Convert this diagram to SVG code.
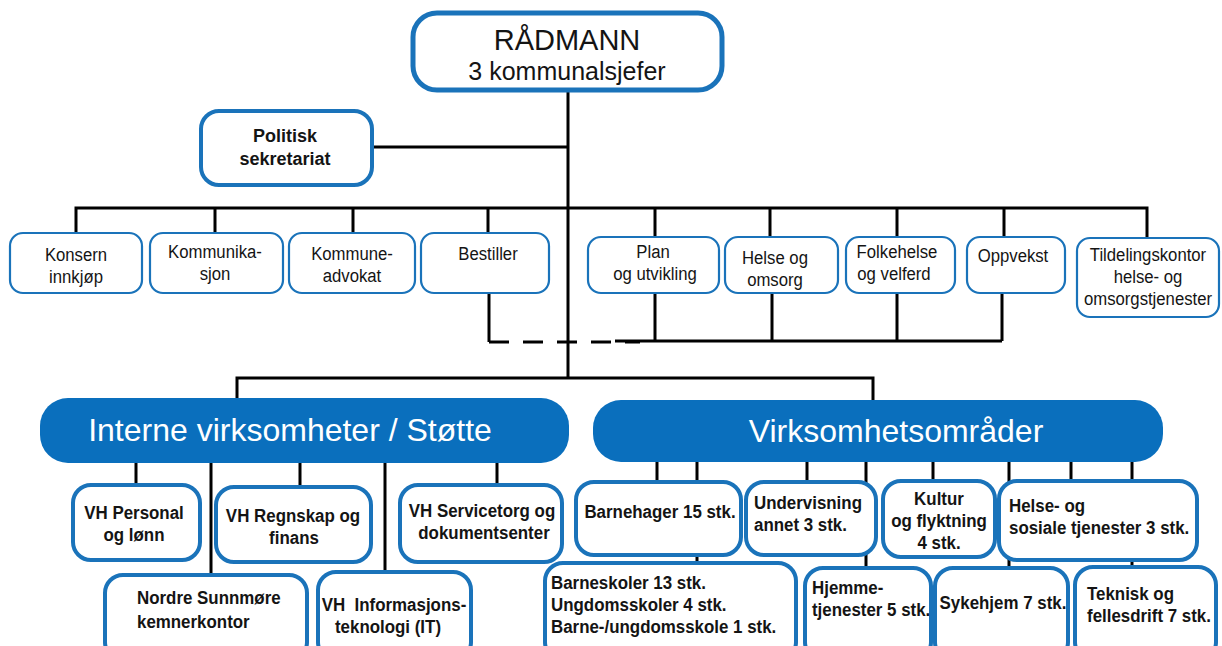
<svg xmlns="http://www.w3.org/2000/svg" width="1222" height="646" viewBox="0 0 1222 646">
<style>
.box{fill:#fff;stroke:#1a73ba;stroke-width:4}
.thin{stroke-width:2.2}
.bar{fill:#0a6fbd}
.t{font-family:"Liberation Sans",Arial,sans-serif;fill:#141414}
.r{font-size:19px}
.b{font-size:19px;font-weight:bold}
.r,.b{transform-box:fill-box;transform-origin:left center;transform:scaleX(.88)}
.b{transform:scaleX(.89)}
.w{fill:#fff;font-size:32px}
.c{text-anchor:middle;transform-origin:center}
.ln{stroke:#000;stroke-width:3;fill:none}
.dash{stroke-dasharray:20 14}
</style>
<rect width="1222" height="646" fill="#fff"/>
<g id="connectors">
<path class="ln" d="M568 90V378"/>
<path class="ln" d="M373 147H568"/>
<path class="ln" d="M76 233V208H1147V238"/>
<path class="ln" d="M215 208V233M353 208V233M488 208V233M655 208V237M770 208V237M897 208V237M1004 208V237"/>
<path class="ln" d="M489 293V342"/>
<path class="ln dash" d="M489 342H640"/>
<path class="ln" d="M615 341H1002M655 293V341M772 293V341M897 293V341M1002 293V341"/>
<path class="ln" d="M237 400V378H873V402"/>
<path class="ln" d="M136 463V485M211 463V575M300 463V487M385 463V572M497 463V485"/>
<path class="ln" d="M657 462V482M697 462V563M807 462V482M866 462V568M933 462V481M1009 462V568M1071 462V481M1132 462V567"/>
</g>
<g id="radmann">
<rect class="box" x="413" y="13" width="309" height="77" rx="24" style="stroke-width:5"/>
<text class="t c" x="567" y="50" font-size="29">RÅDMANN</text>
<text class="t c" x="567" y="80" font-size="25">3 kommunalsjefer</text>
</g>
<g id="politisk">
<rect class="box" x="201" y="111" width="171" height="74" rx="18"/>
<text class="t c" x="285" y="142" font-size="18" font-weight="bold">Politisk</text>
<text class="t c" x="285" y="165" font-size="18" font-weight="bold">sekretariat</text>
</g>
<g id="konsern">
<rect class="box thin" x="10" y="233" width="132" height="60" rx="13"/>
<text class="t r c" x="76" y="261">Konsern</text>
<text class="t r c" x="76" y="283">innkjøp</text>
</g>
<g id="kommunikasjon">
<rect class="box thin" x="150" y="233" width="133" height="60" rx="13"/>
<text class="t r c" x="215" y="258">Kommunika-</text>
<text class="t r c" x="215" y="280">sjon</text>
</g>
<g id="kommuneadvokat">
<rect class="box thin" x="289" y="233" width="126" height="60" rx="13"/>
<text class="t r c" x="352" y="260">Kommune-</text>
<text class="t r c" x="352" y="282">advokat</text>
</g>
<g id="bestiller">
<rect class="box thin" x="421" y="233" width="128" height="60" rx="13"/>
<text class="t r c" x="488" y="260">Bestiller</text>
</g>
<g id="plan">
<rect class="box thin" x="588" y="237" width="131" height="56" rx="13"/>
<text class="t r c" x="653" y="258">Plan</text>
<text class="t r c" x="655" y="280">og utvikling</text>
</g>
<g id="helseomsorg">
<rect class="box thin" x="725" y="237" width="113" height="56" rx="13"/>
<text class="t r c" x="775" y="264">Helse og</text>
<text class="t r c" x="775" y="286">omsorg</text>
</g>
<g id="folkehelse">
<rect class="box thin" x="846" y="237" width="109" height="56" rx="13"/>
<text class="t r c" x="897" y="258">Folkehelse</text>
<text class="t r c" x="894" y="280">og velferd</text>
</g>
<g id="oppvekst">
<rect class="box thin" x="967" y="237" width="98" height="56" rx="13"/>
<text class="t r c" x="1013" y="262">Oppvekst</text>
</g>
<g id="tildelingskontor">
<rect class="box thin" x="1077" y="238" width="142" height="79" rx="13"/>
<text class="t r c" x="1148" y="261">Tildelingskontor</text>
<text class="t r c" x="1148" y="283">helse- og</text>
<text class="t r c" x="1148" y="305">omsorgstjenester</text>
</g>
<g id="interne">
<rect class="bar" x="40" y="398" width="529" height="65" rx="28"/>
<text class="t w c" x="290" y="441">Interne virksomheter / Støtte</text>
</g>
<g id="virksomhetsomrader">
<rect class="bar" x="593" y="400" width="570" height="62" rx="28"/>
<text class="t w c" x="896" y="442">Virksomhetsområder</text>
</g>
<g id="personal">
<rect class="box" x="73" y="485" width="127" height="75" rx="18"/>
<text class="t b c" x="134" y="519">VH Personal</text>
<text class="t b c" x="134" y="541">og lønn</text>
</g>
<g id="regnskap">
<rect class="box" x="216" y="487" width="155" height="75" rx="18"/>
<text class="t b c" x="293" y="522">VH Regnskap og</text>
<text class="t b c" x="294" y="544">finans</text>
</g>
<g id="servicetorg">
<rect class="box" x="400" y="485" width="162" height="77" rx="18"/>
<text class="t b c" x="482" y="517">VH Servicetorg og</text>
<text class="t b c" x="484" y="539">dokumentsenter</text>
</g>
<g id="kemnerkontor">
<rect class="box" x="105" y="575" width="202" height="85" rx="18"/>
<text class="t b" x="137" y="604">Nordre Sunnmøre</text>
<text class="t b" x="137" y="628">kemnerkontor</text>
</g>
<g id="it">
<rect class="box" x="318" y="572" width="153" height="88" rx="18"/>
<text class="t b c" x="394" y="611" xml:space="preserve">VH  Informasjons-</text>
<text class="t b c" x="388" y="633">teknologi (IT)</text>
</g>
<g id="barnehager">
<rect class="box" x="576" y="482" width="165" height="73" rx="18"/>
<text class="t b c" x="660" y="518">Barnehager 15 stk.</text>
</g>
<g id="undervisning">
<rect class="box" x="746" y="482" width="130" height="73" rx="18"/>
<text class="t b" x="754" y="509">Undervisning</text>
<text class="t b" x="754" y="531">annet 3 stk.</text>
</g>
<g id="kultur">
<rect class="box" x="883" y="481" width="112" height="76" rx="18"/>
<text class="t b c" x="939" y="505">Kultur</text>
<text class="t b c" x="939" y="527">og flyktning</text>
<text class="t b c" x="939" y="549">4 stk.</text>
</g>
<g id="helsesosial">
<rect class="box" x="999" y="481" width="198" height="79" rx="18"/>
<text class="t b" x="1009" y="512">Helse- og</text>
<text class="t b" x="1009" y="534">sosiale tjenester 3 stk.</text>
</g>
<g id="skoler">
<rect class="box" x="545" y="563" width="251" height="97" rx="18"/>
<text class="t b" x="551" y="589">Barneskoler 13 stk.</text>
<text class="t b" x="551" y="611">Ungdomsskoler 4 stk.</text>
<text class="t b" x="551" y="633">Barne-/ungdomsskole 1 stk.</text>
</g>
<g id="hjemmetjenester">
<rect class="box" x="805" y="568" width="126" height="92" rx="18"/>
<text class="t b" x="812" y="594">Hjemme-</text>
<text class="t b" x="812" y="616">tjenester 5 stk.</text>
</g>
<g id="sykehjem">
<rect class="box" x="935" y="568" width="133" height="92" rx="18"/>
<text class="t b c" x="1003" y="609">Sykehjem 7 stk.</text>
</g>
<g id="teknisk">
<rect class="box" x="1075" y="567" width="141" height="93" rx="18"/>
<text class="t b" x="1087" y="600">Teknisk og</text>
<text class="t b" x="1087" y="622">fellesdrift 7 stk.</text>
</g>
</svg>
